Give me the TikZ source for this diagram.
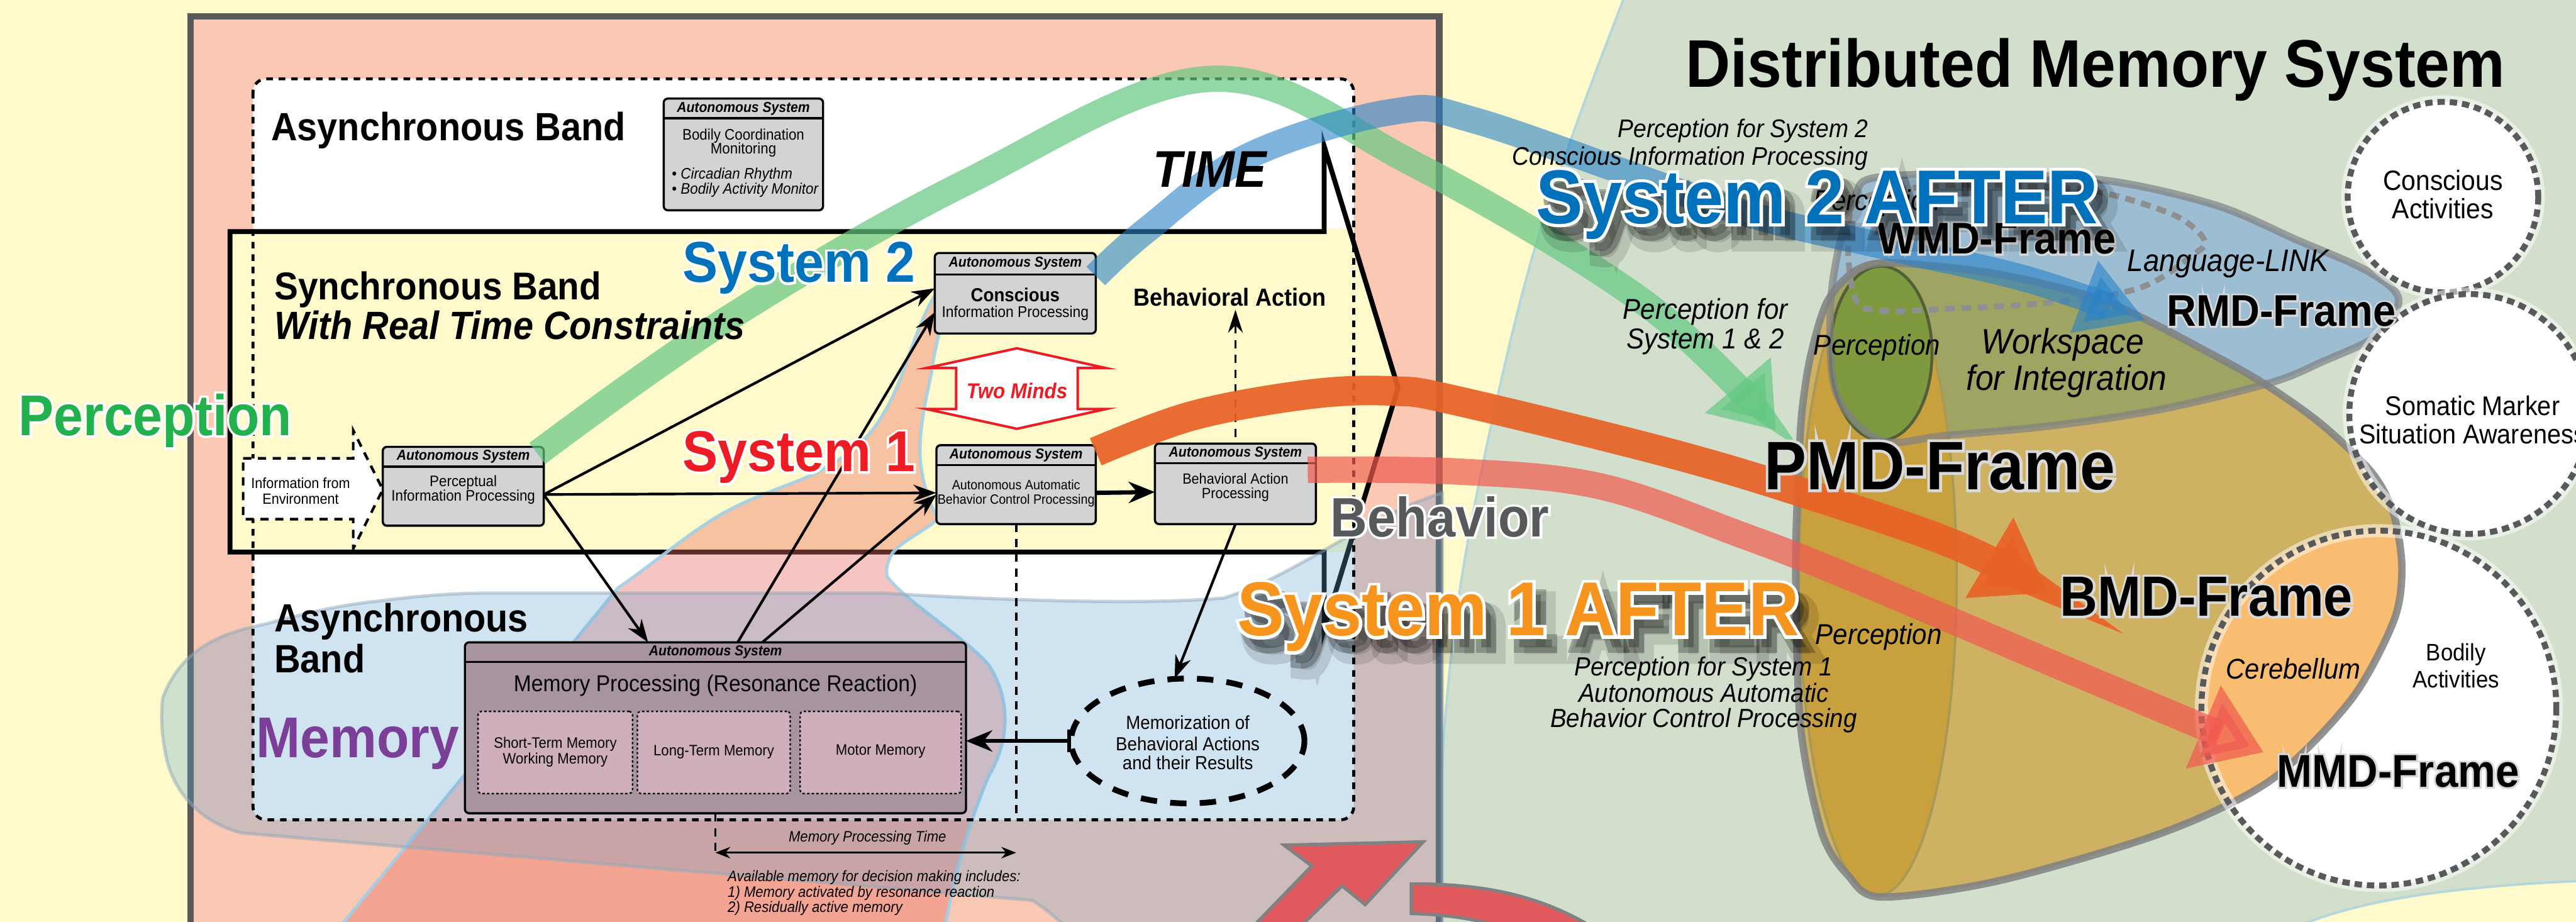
\documentclass[tikz,border=0pt]{standalone}
\usepackage{fontspec}
\setmainfont{Liberation Sans}[FakeStretch=0.92]
\newfontfamily\halofont{Liberation Sans}[FakeStretch=0.92, FakeBold=8]
\newfontfamily\shadowfont{Liberation Sans}[FakeStretch=0.92, FakeBold=14]
\newfontfamily\blurfont{Liberation Sans}[FakeStretch=0.92, FakeBold=26]
\usetikzlibrary{arrows.meta,calc,shapes.geometric}
\definecolor{bgyellow}{HTML}{FEFACC}
\definecolor{dmsgreen}{HTML}{D1DFCC}
\definecolor{dmsedgec}{HTML}{B5D6DA}
\definecolor{salmon}{HTML}{FAC8B3}
\definecolor{framegrey}{HTML}{58595B}
\definecolor{boxgrey}{HTML}{D1D3D4}
\definecolor{sysblue}{HTML}{0072BC}
\definecolor{sysred}{HTML}{ED1C24}
\definecolor{percgreen}{HTML}{22B14C}
\definecolor{mempurple}{HTML}{7B3F98}
\definecolor{afterorange}{HTML}{F7941D}
\definecolor{fanpink}{RGB}{235,110,100}
\definecolor{fanedge}{HTML}{A3D0E6}
\definecolor{blobblue}{RGB}{100,165,210}
\definecolor{blobedge}{HTML}{8FA8BA}
\definecolor{membox}{HTML}{A8949F}
\definecolor{memsub}{HTML}{CFAFBC}
\definecolor{ribgreen}{RGB}{100,200,130}
\definecolor{ribblue}{RGB}{40,130,200}
\definecolor{riborange}{RGB}{232,98,38}
\definecolor{ribred}{RGB}{240,90,80}
\definecolor{eggtan}{HTML}{CFB163}
\definecolor{coltan}{HTML}{C9A03E}
\definecolor{ellblue}{HTML}{9DBDD2}
\definecolor{wsolive}{HTML}{9FA462}
\definecolor{greenell}{HTML}{7F9A3E}
\definecolor{greenelledge}{HTML}{52603A}
\definecolor{coledge}{HTML}{A89A55}
\definecolor{cereb}{HTML}{F8BD71}
\definecolor{outlgrey}{HTML}{7F8183}
\definecolor{wmddash}{HTML}{8D8F91}
\definecolor{halo}{HTML}{D9D9D9}
\definecolor{arrred}{HTML}{E05A5E}
\newcommand\fs[2]{\fontsize{#1}{#2}\selectfont}
\newcommand\halotext[2]{\leavevmode\rlap{\halofont\color{#1}#2}#2}
\def\dmsline{plot[smooth, tension=0.6] coordinates {(872,575) (878,460) (887,370) (904,276) (930,166) (958,80) (990,-5)}}
\def\syncarrow{(140,141) -- (806,141) -- (806,89) -- (851,236) -- (806,383) -- (806,336) -- (140,336) -- cycle}
\def\blueshape{plot[smooth cycle, tension=0.55] coordinates {(1119,152) (1129,120) (1142,108) (1210,106) (1283,110) (1349,125) (1398,146) (1441,165) (1460,182) (1447,204) (1414,220) (1382,233) (1316,249) (1250,259) (1185,265) (1145,268) (1118,240) (1114,191)}}
\def\eggpath{plot[smooth cycle, tension=0.5] coordinates {(1097,249) (1102,217) (1112,184) (1129,165) (1152,160) (1217,167) (1283,184) (1349,217) (1382,236) (1414,259) (1444,288) (1457,313) (1462,346) (1457,378) (1431,426) (1382,475) (1316,507) (1217,536) (1145,546) (1125,533) (1109,507) (1096,442) (1093,346) (1095,281)}}
\def\colpath{(1143,352) ellipse [x radius=48, y radius=193]}
\begin{document}
\begin{tikzpicture}[x=1pt,y=-1pt,
  every node/.append style={inner sep=0pt, outer sep=0pt},
  abox/.style={draw=black, line width=1.3pt, fill=boxgrey, rounded corners=2.5pt},
  subbox/.style={draw=black, line width=0.9pt, dash pattern=on 1.4pt off 1.4pt, rounded corners=2pt, fill=memsub},
  hdrtxt/.style={font=\fs{8.8}{10}\bfseries\itshape},
  conn/.style={draw=black, line width=1.6pt, -{Stealth[length=14pt,width=10pt]}},
  dashln/.style={draw=black, line width=1.4pt, dash pattern=on 5pt off 4pt},
  lbl/.style={anchor=base west},
  ctr/.style={anchor=base},
  dcirc/.style={draw=framegrey, line width=3.6pt, dash pattern=on 4.5pt off 3pt},
]
\useasboundingbox (0,0) rectangle (1568,561);
\clip (0,0) rectangle (1568,561);
% background
\fill[bgyellow] (-5,-5) rectangle (1575,570);
\fill[dmsgreen] \dmsline -- (1575,-5) -- (1575,536) .. controls (1480,540) and (1430,550) .. (1396,565) -- cycle;
\draw[dmsedgec, line width=1.5pt] \dmsline;
\draw[dmsedgec, line width=1.5pt] (1575,536) .. controls (1480,540) and (1430,550) .. (1396,565);
% frame
\draw[draw=framegrey, line width=4pt, fill=salmon] (116,10) rectangle (876,585);
% bands
\fill[white, rounded corners=8pt] (154,48) rectangle (824,499);
\fill[bgyellow] (154,139) rectangle (824,336);
\begin{scope}\clip (0,139) rectangle (900,336); \fill[bgyellow] \syncarrow; \end{scope}
\draw[line width=3pt, line join=miter] \syncarrow;
% pink fan
\path[fill=fanpink, fill opacity=0.4, draw=fanedge, draw opacity=0.9, line width=2pt]
  (198,575) -- (376,358) .. controls (395,345) and (415,328) .. (434,316)
  .. controls (460,300) and (485,295) .. (502,285) .. controls (520,275) and (530,265) .. (537,253)
  .. controls (545,240) and (550,226) .. (554,214) .. controls (560,198) and (565,185) .. (571,177)
  .. controls (574,175) and (577,176) .. (578,180) .. controls (574,195) and (569,210) .. (567,227)
  .. controls (563,245) and (560,260) .. (560,274) .. controls (560,290) and (565,305) .. (571,316)
  .. controls (560,325) and (548,330) .. (543,337) .. controls (540,342) and (539,347) .. (540,351)
  .. controls (550,365) and (590,390) .. (602,405) .. controls (615,425) and (615,450) .. (602,472)
  .. controls (590,500) and (578,540) .. (574,575) -- cycle;
% memory blob
\path[fill=blobblue, fill opacity=0.3, draw=blobedge, draw opacity=0.5, line width=2pt]
  (99,425) .. controls (110,395) and (135,385) .. (161,380) .. controls (190,372) and (210,368) .. (229,366)
  .. controls (260,362) and (280,361) .. (297,361) -- (537,361) .. controls (620,366) and (700,368) .. (745,364)
  .. controls (790,350) and (830,315) .. (878,300)
  -- (878,575) -- (660,575) .. controls (645,560) and (635,552) .. (628,548) -- (147,507)
  .. controls (120,500) and (105,480) .. (101,460) .. controls (98,445) and (98,435) .. (99,425) -- cycle;
% dashed band box outline
\draw[line width=1.8pt, dash pattern=on 4pt off 3.6pt, rounded corners=8pt] (154,48) rectangle (824,499);
% information from environment
\draw[fill=white, line width=1.6pt, dash pattern=on 5pt off 4pt] (148,279) -- (215,279) -- (215,262) -- (233,298) -- (215,334) -- (215,316) -- (148,316) -- cycle;
\node[ctr, font=\fs{9}{10}] (tie1) at (183,297.4) {Information from};
\node[ctr, font=\fs{9}{10}] (tie2) at (183,306.9) {Environment};
% ---------- boxes
\node[abox, minimum width=97pt, minimum height=68pt] (abm) at (452.5,94) {};
\draw[line width=1.3pt] ([yshift=-12pt]abm.north west) -- ([yshift=-12pt]abm.north east);
\node[hdrtxt] (abmh) at ([yshift=-6pt]abm.north) {Autonomous System};
\node[ctr, font=\fs{9.3}{11}] (abm1) at (452.5,85) {Bodily Coordination};
\node[ctr, font=\fs{9.3}{11}] (abm2) at (452.5,93.6) {Monitoring};
\node[lbl, font=\fs{9.3}{11}] (abm3) at (409,109) {\textbullet\ \textit{Circadian Rhythm}};
\node[lbl, font=\fs{9.3}{11}] (abm4) at (409,118) {\textbullet\ \textit{Bodily Activity Monitor}};

\node[abox, minimum width=98pt, minimum height=48pt] (pip) at (282,296) {};
\draw[line width=1.3pt] ([yshift=-12pt]pip.north west) -- ([yshift=-12pt]pip.north east);
\node[hdrtxt] (piph) at ([yshift=-6pt]pip.north) {Autonomous System};
\node[ctr, font=\fs{9.3}{11}] (pip1) at (282,296) {Perceptual};
\node[ctr, font=\fs{9.3}{11}] (pip2) at (282,305) {Information Processing};

\node[abox, minimum width=98pt, minimum height=49pt] (csc) at (618,178.5) {};
\draw[line width=1.3pt] ([yshift=-13pt]csc.north west) -- ([yshift=-13pt]csc.north east);
\node[hdrtxt] (csch) at ([yshift=-6.5pt]csc.north) {Autonomous System};
\node[ctr, font=\fs{11.5}{12}\bfseries] (csc1) at (618,183.5) {Conscious};
\node[ctr, font=\fs{9.5}{11}] (csc2) at (618,193) {Information Processing};

\node[abox, minimum width=97pt, minimum height=48pt] (aab) at (618.5,295) {};
\draw[line width=1.3pt] ([yshift=-12pt]aab.north west) -- ([yshift=-12pt]aab.north east);
\node[hdrtxt] (aabh) at ([yshift=-6pt]aab.north) {Autonomous System};
\node[ctr, font=\fs{8.2}{10}] (aab1) at (618.5,297.9) {Autonomous Automatic};
\node[ctr, font=\fs{8.2}{10}] (aab2) at (618.5,307) {Behavior Control Processing};

\node[abox, minimum width=98pt, minimum height=49pt] (bap) at (752,294.5) {};
\draw[line width=1.3pt] ([yshift=-12pt]bap.north west) -- ([yshift=-12pt]bap.north east);
\node[hdrtxt] (baph) at ([yshift=-6pt]bap.north) {Autonomous System};
\node[ctr, font=\fs{9}{10}] (bap1) at (752,294.5) {Behavioral Action};
\node[ctr, font=\fs{9}{10}] (bap2) at (752,303.5) {Processing};

\node[lbl, font=\fs{15}{15}\bfseries] (ba) at (690,186.4) {Behavioral Action};

\node[abox, fill=membox, minimum width=305pt, minimum height=104pt] (mem) at (435.5,443) {};
\draw[line width=1.3pt] ([yshift=-12pt]mem.north west) -- ([yshift=-12pt]mem.north east);
\node[hdrtxt] (memh) at ([yshift=-6pt]mem.north) {Autonomous System};
\node[ctr, font=\fs{14}{15}] (mem1) at (435.5,421) {Memory Processing (Resonance Reaction)};
\node[subbox, minimum width=94pt, minimum height=50pt] (stm) at (338,458) {};
\node[subbox, minimum width=93pt, minimum height=50pt] (ltm) at (434.5,458) {};
\node[subbox, minimum width=98pt, minimum height=50pt] (mot) at (536,458) {};
\node[ctr, font=\fs{9.2}{10}] (stm1) at (338,455.5) {Short-Term Memory};
\node[ctr, font=\fs{9.2}{10}] (stm2) at (338,464.9) {Working Memory};
\node[ctr, font=\fs{9.2}{10}] (ltm1) at (434.5,460) {Long-Term Memory};
\node[ctr, font=\fs{9.2}{10}] (mot1) at (536,459.5) {Motor Memory};

\node[ellipse, draw=black, line width=3.5pt, dash pattern=on 10pt off 8pt, minimum width=142pt, minimum height=76pt] (mz) at (723,451) {};
\node[ctr, font=\fs{11.5}{12}] (mz1) at (723,444) {Memorization of};
\node[ctr, font=\fs{11.5}{12}] (mz2) at (723,456.7) {Behavioral Actions};
\node[ctr, font=\fs{11.5}{12}] (mz3) at (723,468.2) {and their Results};

% two minds
\draw[draw=sysred, line width=1.5pt, fill=white] (619,212) -- (673,224) -- (656,224) -- (656,249) -- (673,249) -- (619,261) -- (564,249) -- (582,249) -- (582,224) -- (564,224) -- cycle;
\node[ctr, font=\fs{13}{13}\bfseries\itshape, text=sysred] (tm) at (619,242.7) {Two Minds};

% connectors
\coordinate (dbot) at (0,499);
\coordinate (mpt) at (0,521);
\coordinate (mpta) at (0,519);
\draw[conn] ([yshift=-5pt]pip.east) -- ([yshift=3pt]csc.west);
\draw[conn] ([yshift=-5pt]pip.east) -- ([yshift=-5pt]aab.west);
\draw[conn] ([yshift=-5pt]pip.east) -- ([xshift=-41pt]mem.north);
\draw[conn] ([xshift=13.5pt]mem.north) -- ([yshift=-11.5pt]csc.west);
\draw[conn] ([xshift=28.5pt]mem.north) -- ([yshift=-6pt]aab.west);
\draw[line width=2.6pt, -{Stealth[length=16pt,width=13pt]}] ([yshift=-5pt]aab.east) -- ([yshift=-5pt]bap.west);
\draw[dashln, -{Stealth[length=14pt,width=9pt]}] ([yshift=4pt]bap.north) -- ([yshift=-2pt]bap.north |- ba.south);
\draw[conn] (bap.south) -- ([xshift=-8pt]mz.north);
\draw[line width=2.4pt, {Bar[width=14pt]}-{Stealth[length=16pt,width=13pt]}] (mz.west) -- (mem.east |- mz.west);
\draw[dashln] (aab.south) -- (aab.south |- dbot);
\draw[dashln] (mem.south) -- (mem.south |- mpt);
\draw[line width=1.2pt, {Stealth[length=9pt,width=7pt]}-{Stealth[length=9pt,width=7pt]}] (mem.south |- mpta) -- (aab.south |- mpta);
\node[ctr, font=\fs{9.2}{10}\itshape] (tmpt) at (528,512.4) {Memory Processing Time};
\node[lbl, font=\fs{9.2}{10}\itshape] (tav1) at (443,536.5) {Available memory for decision making includes:};
\node[lbl, font=\fs{9.2}{10}\itshape] (tav2) at (443,545.9) {1) Memory activated by resonance reaction};
\node[lbl, font=\fs{9.2}{10}\itshape] (tav3) at (443,555.2) {2) Residually active memory};

% bottom red arrows
\draw[fill=arrred, draw=outlgrey, line width=2pt, line join=miter] (752,575) -- (798.5,527.1) -- (781.6,514.4) -- (866.3,512.4) -- (831,550.6) -- (816.9,539.2) -- (780.1,575) -- cycle;
\draw[fill=arrred, draw=outlgrey, line width=2pt] (859,538) .. controls (905,538) and (945,545) .. (985,575) -- (940,575) .. controls (915,562) and (890,557) .. (859,556) -- cycle;

% ---------- distributed memory shapes
\fill[ellblue] \blueshape;
\fill[eggtan] \eggpath;
\begin{scope}\clip \blueshape; \fill[wsolive] \eggpath; \end{scope}
\fill[coltan] \colpath;
\draw[coledge, line width=1.5pt] \colpath;
\draw[fill=greenell, draw=greenelledge, line width=1.8pt] (1145,215) ellipse [x radius=31, y radius=53];
\draw[outlgrey, line width=4.5pt, opacity=0.7] \blueshape;
\draw[wmddash, line width=3.5pt, dash pattern=on 6pt off 4pt] plot[smooth cycle, tension=0.6] coordinates {(1125,139) (1135,120) (1184,113) (1250,114) (1283,118) (1316,128) (1332,136) (1342,147) (1335,155) (1303,175) (1250,184) (1184,188) (1145,189) (1129,181)};
\fill[white] (1487,120) circle [radius=58];
\fill[white] (1503,252) circle [radius=73];
\fill[white] (1448,431) circle [radius=108];
\begin{scope}\clip (1448,431) circle [radius=108]; \fill[cereb] \eggpath; \end{scope}
\draw[outlgrey, line width=4.5pt, opacity=0.85] \eggpath;
\foreach \cx/\cy/\r in {1487/120/58, 1503/252/73, 1448/431/108} {
  \draw[white, line width=8pt, opacity=0.5] (\cx,\cy) circle [radius=\r];
  \draw[dcirc] (\cx,\cy) circle [radius=\r];
}

% ---------- ribbons
\coordinate (gend) at (1081,262);
\coordinate (bend) at (1306,195);
\coordinate (oend) at (1247,361);
\coordinate (rend) at (1378,458);
\draw[ribgreen, opacity=0.7, line width=16pt, -{Triangle[length=36pt,width=50pt]}] plot[smooth, tension=0.6] coordinates {([xshift=-4pt,yshift=-4pt]pip.north east) (443,194) (588,111) (737,48) (859,99) (1002,185) (gend)};
\draw[ribblue, opacity=0.6, line width=16pt, -{Triangle[length=40pt,width=44pt]}] plot[smooth, tension=0.6] coordinates {([yshift=-14pt]csc.north east) (698,140) (760,95) (848,68) (900,74) (1053,127) (1147,150) (1234,170) (bend)};
\draw[riborange, opacity=0.92, line width=18pt, -{Triangle[length=42pt,width=54pt]}] plot[smooth, tension=0.6] coordinates {([yshift=-4pt]aab.north east) (726,253) (797,240) (848,238) (887,244) (1017,276) (1104,302) (1191,332) (oend)};
\draw[ribred, opacity=0.7, line width=16pt, -{Triangle[length=40pt,width=52pt]}] plot[smooth, tension=0.6] coordinates {([xshift=-5pt,yshift=-16pt]bap.north east) (887,287) (974,296) (1061,326) (1125,351) (1252,405) (rend)};

% ---------- labels
\node[lbl, font=\fs{41}{41}\bfseries] (tdms) at (1026,53) {Distributed Memory System};
\node[lbl, font=\fs{24}{24}\bfseries] (tab1) at (165,85.6) {Asynchronous Band};
\node[lbl, font=\fs{23.6}{24}\bfseries] (tsb) at (167,182.5) {Synchronous Band};
\node[lbl, font=\fs{24}{24}\bfseries\itshape] (trt) at (167,206.6) {With Real Time Constraints};
\node[lbl, font=\fs{31.4}{32}\bfseries\itshape] (ttime) at (702,114) {TIME};
\node[lbl, font=\fs{35}{35}\bfseries, text=sysblue] (ts2) at (415.6,171.8) {\halotext{white}{System 2}};
\node[lbl, font=\fs{35}{35}\bfseries, text=sysred] (ts1) at (415.6,287) {\halotext{white}{System 1}};
\node[lbl, font=\fs{35}{35}\bfseries, text=percgreen] (tperc) at (11.3,265) {\halotext{white}{Perception}};
\node[lbl, font=\fs{35}{35}\bfseries, text=mempurple] (tmem) at (156,461) {Memory};
\node[lbl, font=\fs{33.8}{34}\bfseries, text=framegrey] (tbeh) at (810,326.6) {\halotext{white}{Behavior}};
\node[lbl, font=\fs{24}{24}\bfseries] (tab2) at (167,384.6) {Asynchronous};
\node[lbl, font=\fs{24}{24}\bfseries] (tab3) at (167,409.3) {Band};

\node[anchor=base east, font=\fs{15.5}{16}\itshape] (tp2a) at (1137,83.8) {Perception for System 2};
\node[anchor=base east, font=\fs{15.5}{16}\itshape] (tp2b) at (1137,100.4) {Conscious Information Processing};
\node[lbl, font=\fs{17.5}{18}\itshape] (tphid) at (1104,128) {Perception};
\node[lbl, font=\fs{27}{27}\bfseries] (twmd) at (1143,154.6) {\halotext{halo}{WMD-Frame}};
\node[lbl, font=\fs{19}{19}\itshape] (tlang) at (1295,165) {Language-LINK};
\node[lbl, font=\fs{27}{27}\bfseries] (trmd) at (1319,198.5) {\halotext{halo}{RMD-Frame}};
\node[ctr, font=\fs{17.5}{18}\itshape] (tp12a) at (1038,194.2) {Perception for};
\node[ctr, font=\fs{17.5}{18}\itshape] (tp12b) at (1038,212.3) {System 1 \& 2};
\node[lbl, font=\fs{17.5}{18}\itshape] (tpcol) at (1104,216) {Perception};
\node[lbl, font=\fs{21.5}{22}\itshape] (tws1) at (1206,215.5) {Workspace};
\node[lbl, font=\fs{21.5}{22}\itshape] (tws2) at (1197,237.7) {for Integration};
\node[lbl, font=\fs{41.8}{42}\bfseries] (tpmd) at (1074,297.9) {\halotext{halo}{PMD-Frame}};
\node[lbl, font=\fs{34.5}{35}\bfseries] (tbmd) at (1254,375) {\halotext{halo}{BMD-Frame}};
\node[lbl, font=\fs{28}{28}\bfseries] (tmmd) at (1386,479) {\halotext{halo}{MMD-Frame}};
\node[lbl, font=\fs{17.5}{18}\itshape] (tplow) at (1105,392) {Perception};
\node[ctr, font=\fs{16}{16}\itshape] (tp1a) at (1037,411.3) {Perception for System 1};
\node[ctr, font=\fs{16}{16}\itshape] (tp1b) at (1037,427.4) {Autonomous Automatic};
\node[ctr, font=\fs{16}{16}\itshape] (tp1c) at (1037,442.7) {Behavior Control Processing};
\node[lbl, font=\fs{17.4}{18}\itshape] (tcer) at (1355,413.3) {Cerebellum};
\node[ctr, font=\fs{14.5}{15}] (tbod1) at (1495,402) {Bodily};
\node[ctr, font=\fs{14.5}{15}] (tbod2) at (1495,418.7) {Activities};
\node[ctr, font=\fs{17}{17}] (tcon1) at (1487,115.8) {Conscious};
\node[ctr, font=\fs{17}{17}] (tcon2) at (1487,133) {Activities};
\node[ctr, font=\fs{16.5}{17}] (tsom1) at (1505,252.9) {Somatic Marker};
\node[lbl, font=\fs{16.5}{17}] (tsom2) at (1436,270) {Situation Awareness};

% AFTER labels with soft shadow
\node[lbl, font=\fs{46.5}{47}\bfseries\blurfont, text=black, opacity=0.12] (shc) at (761,398) {System 1 AFTER};
\node[lbl, font=\fs{46.5}{47}\bfseries\shadowfont, text=black, opacity=0.25] (sha) at (758,394) {System 1 AFTER};
\node[lbl, font=\fs{46.5}{47}\bfseries\blurfont, text=black, opacity=0.12] (shd) at (943,147) {System 2 AFTER};
\node[lbl, font=\fs{46.5}{47}\bfseries\shadowfont, text=black, opacity=0.25] (shb) at (940,143) {System 2 AFTER};
\node[lbl, font=\fs{46.5}{47}\bfseries, text=afterorange] (ts1after) at (753,387) {\halotext{white}{System 1 AFTER}};
\node[lbl, font=\fs{46.5}{47}\bfseries, text=sysblue] (ts2after) at (935,136) {\halotext{white}{System 2 AFTER}};
\end{tikzpicture}
\end{document}
